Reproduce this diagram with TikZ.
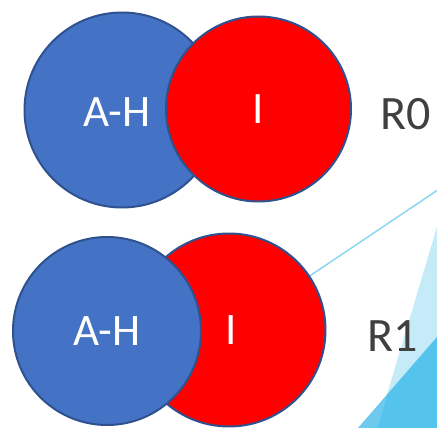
\documentclass[tikz,border=0pt]{standalone}
\usepackage{fontspec}
\setmainfont{Carlito}
\definecolor{blueF}{HTML}{4472C4}
\definecolor{edgeB}{HTML}{2F528F}
\definecolor{redF}{HTML}{FF0000}
\definecolor{txtG}{HTML}{404040}
\definecolor{lineB}{HTML}{8DD5F2}
\definecolor{triL}{HTML}{C5EBF8}
\definecolor{triM}{HTML}{6DC9EE}
\definecolor{triD}{HTML}{55C4EC}
\begin{document}
\begin{tikzpicture}[x=1pt,y=-1pt,
  blob/.style={circle,draw=edgeB,line width=2pt,inner sep=0pt,text=white,font=\fontsize{45}{45}\selectfont},
  rlabel/.style={text=txtG,font=\fontsize{48}{48}\selectfont,inner sep=0pt}]
\useasboundingbox (0,0) rectangle (437,428);
% background triangles
\fill[triL] (437,227) -- (377,428) -- (437,428) -- cycle;
\fill[triM] (387,394.6) -- (358,428) -- (377,428) -- cycle;
\fill[triD] (437,337) -- (387,394.6) -- (377,428) -- (437,428) -- cycle;
% line
\coordinate (lstart) at (262,308);
\coordinate (lend) at (437,190.5);
\draw[lineB,line width=1.5pt] (lstart) -- (lend);
% top row
\node[blob,fill=blueF,minimum size=195pt] (b0) at (122,110) {};
\node[blob,fill=redF,minimum size=185pt] (r0) at (258.5,109) {I};
\node[text=white,font=\fontsize{45}{45}\selectfont,inner sep=0pt] (t0) at (117,112) {A-H};
\node[rlabel] (R0) at (406,114) {R0};
% bottom row
\node[blob,fill=redF,minimum size=193pt] (r1) at (229,330) {\hspace*{4pt}I};
\node[blob,fill=blueF,minimum size=188pt] (b1) at (107,331) {A-H};
\node[rlabel] (R1) at (393,336) {R1};
\end{tikzpicture}
\end{document}
